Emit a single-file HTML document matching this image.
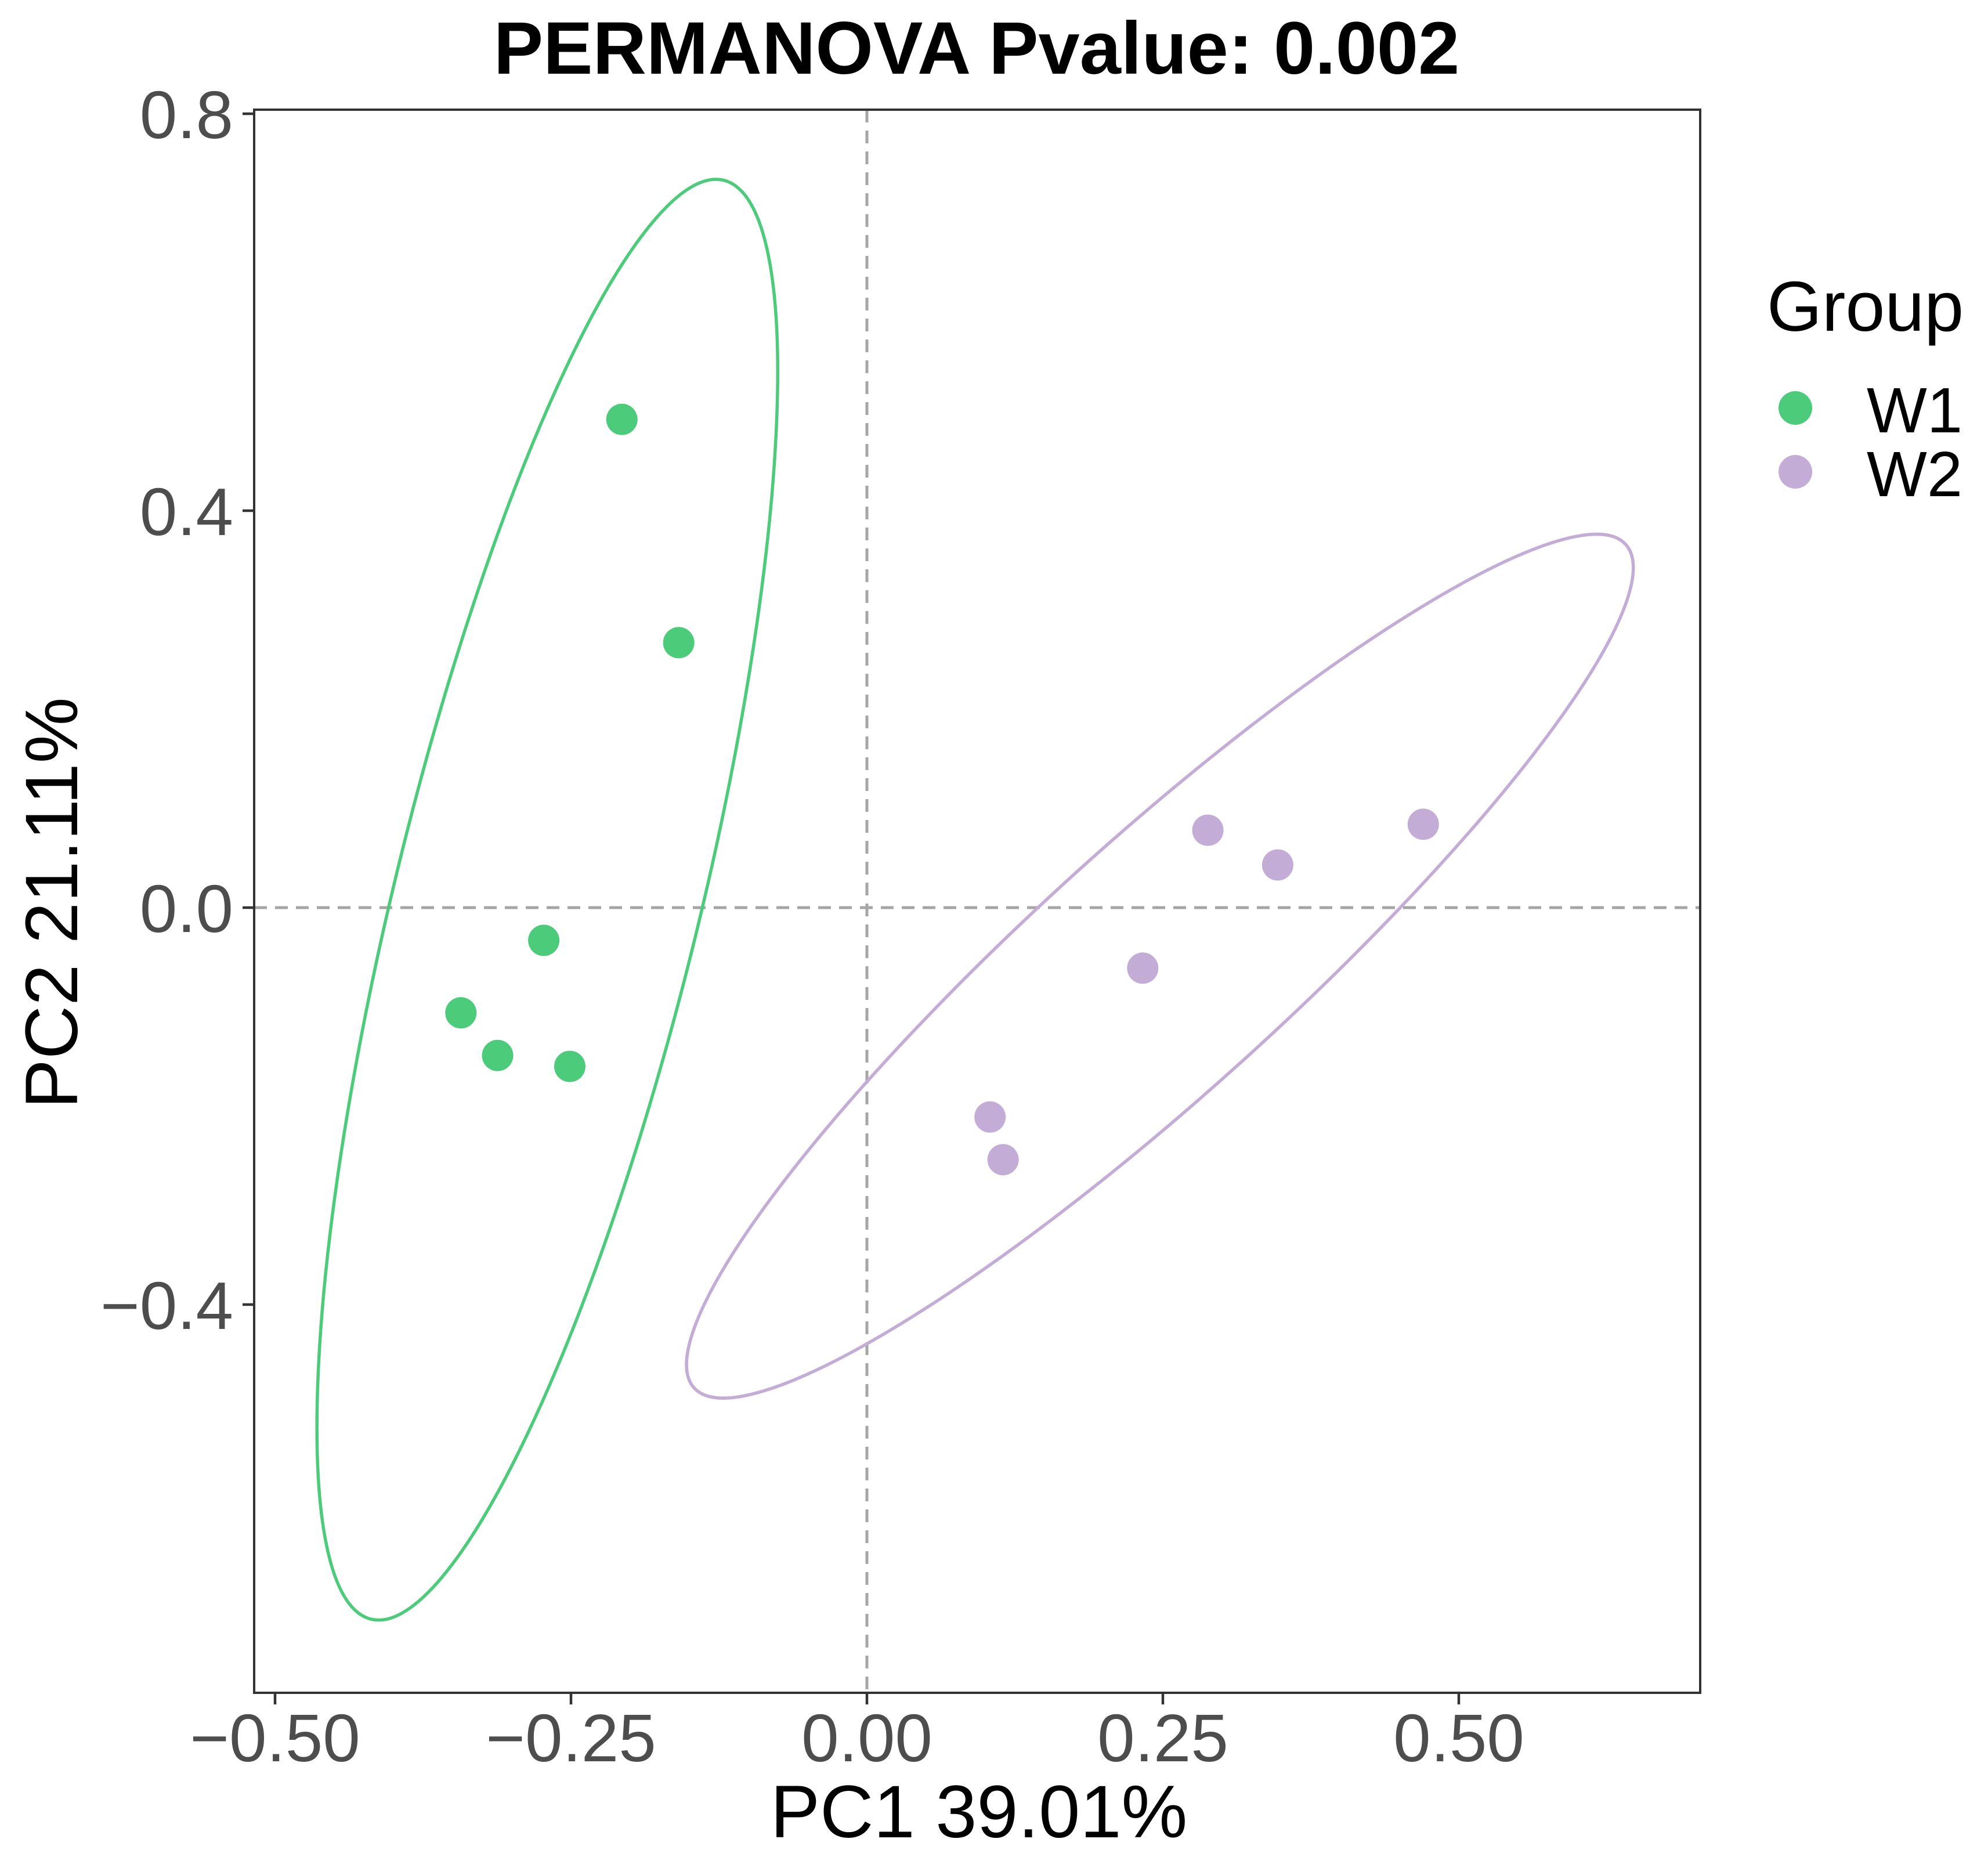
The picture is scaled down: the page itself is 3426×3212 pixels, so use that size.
<!DOCTYPE html>
<html><head><meta charset="utf-8"><style>
html,body{margin:0;padding:0;background:#fff;}
svg{display:block;font-family:"Liberation Sans",Arial,sans-serif;}
</style></head><body>
<svg id="chart" width="3426" height="3212" viewBox="0 0 3426 3212" xmlns="http://www.w3.org/2000/svg">
<rect width="3426" height="3212" fill="#fff"/>
<text x="1683" y="127" text-anchor="middle" font-size="128" font-weight="bold" fill="#000">PERMANOVA Pvalue: 0.002</text>
<g id="plot"></g>
<text x="1687" y="3166" text-anchor="middle" font-size="128" fill="#000">PC1 39.01%</text>
<text transform="translate(133,1556) rotate(-90)" text-anchor="middle" font-size="128" fill="#000">PC2 21.11%</text>
<g>
<text x="3045" y="570" font-size="122" fill="#000">Group</text>
<g>
<circle cx="3094" cy="703" r="29" fill="#4ccb7a"/>
<text x="3217" y="745" font-size="110" fill="#000">W1</text></g>
<g>
<circle cx="3094" cy="813" r="29" fill="#c3acd6"/>
<text x="3217" y="855" font-size="110" fill="#000">W2</text></g>
</g>
</svg>
<script>
const w1X = [-0.207, -0.159, -0.273, -0.343, -0.312, -0.251];
const w1Y = [0.492, 0.267, -0.033, -0.106, -0.149, -0.160];
const w2X = [0.288, 0.347, 0.470, 0.233, 0.104, 0.115];
const w2Y = [0.078, 0.043, 0.084, -0.061, -0.211, -0.254];
// ellipse: center x, center y, major-tip x, major-tip y, minor/major ratio
const w1Ellipse = [-0.270, 0.008, -0.121, 0.733, 0.206];
const w2Ellipse = [0.2475, -0.059, 0.641, 0.366, 0.2];
const xTicks = [-0.50, -0.25, 0.00, 0.25, 0.50];
const xTickLabels = ["\u22120.50", "\u22120.25", "0.00", "0.25", "0.50"];
const yTicks = [0.8, 0.4, 0.0, -0.4];
const yTickLabels = ["0.8", "0.4", "0.0", "\u22120.4"];

const L = 438, R = 2930, T = 189, B = 2917;
function sx(v){ return 1494 + v * 2040; }
function sy(v){ return 1564 - v * 1710; }
const NS = "http://www.w3.org/2000/svg";
const plot = document.getElementById('plot');
function mk(tag, attrs, parent){
  const e = document.createElementNS(NS, tag);
  for (const k in attrs) e.setAttribute(k, attrs[k]);
  (parent || plot).appendChild(e);
  return e;
}
let e = mk('line', {x1: sx(0), x2: sx(0), y1: T, y2: B, stroke: '#a6a6a6', 'stroke-width': 5, 'stroke-dasharray': '22 14'});


e = mk('line', {x1: L, x2: R, y1: sy(0), y2: sy(0), stroke: '#a6a6a6', 'stroke-width': 5, 'stroke-dasharray': '22 14'});



function drawEllipse(p, color, name){
  const cx = sx(p[0]), cy = sy(p[1]), tx = sx(p[2]), ty = sy(p[3]);
  const a = Math.hypot(tx - cx, ty - cy);
  const ang = Math.atan2(ty - cy, tx - cx) * 180 / Math.PI;
  const el = mk('ellipse', {cx: cx, cy: cy, rx: a, ry: a * p[4], transform: 'rotate(' + ang + ' ' + cx + ' ' + cy + ')', fill: 'none', stroke: color, 'stroke-width': 5.5});
  
  
}
drawEllipse(w1Ellipse, '#4ccb7a', 'ellipse-w1');
drawEllipse(w2Ellipse, '#c3acd6', 'ellipse-w2');

function drawPoints(xs, ys, color, name){
  for (let i = 0; i < xs.length; i++){
    const c = mk('circle', {cx: sx(xs[i]), cy: sy(ys[i]), r: 27, fill: color});
    
    
  }
}
drawPoints(w1X, w1Y, '#4ccb7a', 'point-w1');
drawPoints(w2X, w2Y, '#c3acd6', 'point-w2');

e = mk('rect', {x: L, y: T, width: R - L, height: B - T, fill: 'none', stroke: '#333', 'stroke-width': 4});



xTicks.forEach((v, i) => {
  const t = mk('line', {x1: sx(v), x2: sx(v), y1: B, y2: B + 20, stroke: '#333', 'stroke-width': 4.5});
  
  
  const lb = mk('text', {x: sx(v), y: 3035, 'text-anchor': 'middle', 'font-size': 116, fill: '#4d4d4d'});
  lb.textContent = xTickLabels[i];
  
  
});
yTicks.forEach((v, i) => {
  const t = mk('line', {x1: L - 20, x2: L, y1: sy(v), y2: sy(v), stroke: '#333', 'stroke-width': 4.5});
  
  
  const lb = mk('text', {x: 402, y: sy(v) + 42, 'text-anchor': 'end', 'font-size': 116, fill: '#4d4d4d'});
  lb.textContent = yTickLabels[i];
  
  
});
</script>
</body></html>
